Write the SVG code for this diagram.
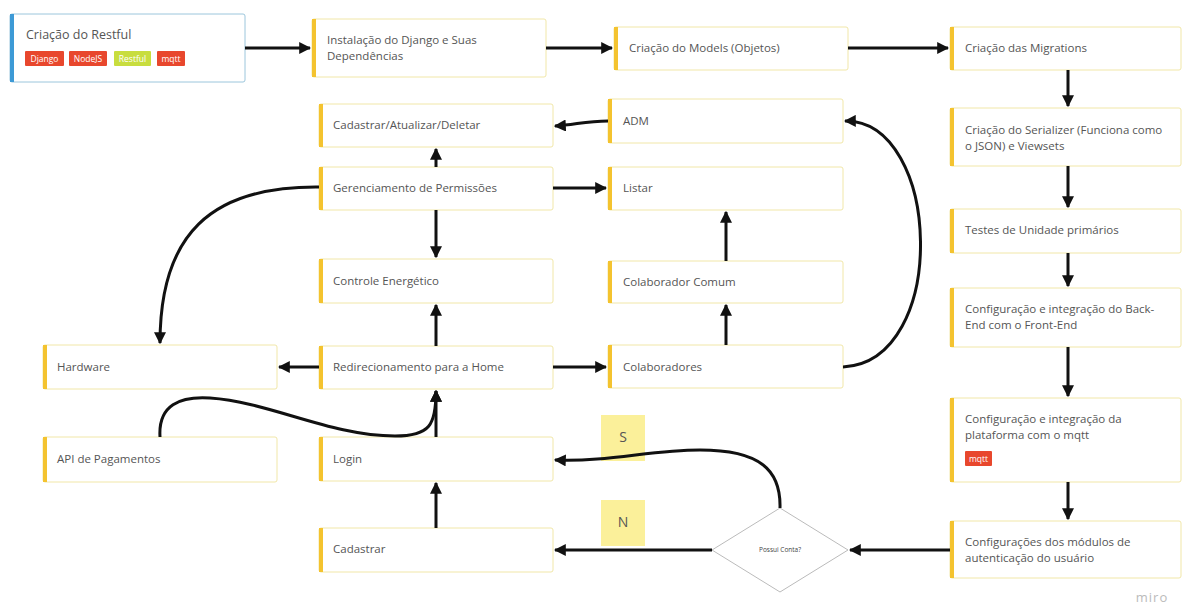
<svg xmlns="http://www.w3.org/2000/svg" width="1184" height="606" viewBox="0 0 1184 606">
<defs>
<style>
.box{fill:#fff;stroke:#f1e7a8;stroke-width:1}
.bar{fill:#f4c32f}
.t{font-family:"Open Sans","Liberation Sans",sans-serif;font-size:11.5px;fill:#555}
.tag{font-family:"Open Sans","Liberation Sans",sans-serif;font-size:8.5px;fill:#fff;text-anchor:middle}
.c{fill:none;stroke:#111;stroke-width:3}
.sticky{fill:#fbf09a}
.st{font-family:"Open Sans","Liberation Sans",sans-serif;font-size:14px;fill:#555;text-anchor:middle}
</style>
<marker id="a" viewBox="0 0 10 10" refX="9" refY="5" markerWidth="4" markerHeight="4" markerUnits="strokeWidth" orient="auto">
<path d="M0,0 L10,5 L0,10 z" fill="#111"/>
</marker>
</defs>
<rect width="1184" height="606" fill="#fff"/>

<g id="n-restful">
<rect x="10" y="14" width="235" height="68" rx="2" fill="#fff" stroke="#9cc6dc" stroke-width="1"/>
<rect x="10" y="14" width="4" height="68" fill="#3d9ad6"/>
<text class="t" x="26" y="39" style="font-size:12.5px">Criação do Restful</text>
<rect x="25" y="51" width="39" height="15" rx="1" fill="#e8472d"/><text class="tag" x="44.5" y="61.5">Django</text>
<rect x="69" y="51" width="38" height="15" rx="1" fill="#e8472d"/><text class="tag" x="88" y="61.5">NodeJS</text>
<rect x="114" y="51" width="37" height="15" rx="1" fill="#c8dd3e"/><text class="tag" x="132.5" y="61.5">Restful</text>
<rect x="157" y="51" width="28" height="15" rx="1" fill="#e8472d"/><text class="tag" x="171" y="61.5">mqtt</text>
</g>

<g id="n-instalacao">
<rect class="box" x="312" y="19" width="234" height="58" rx="2"/><rect class="bar" x="312" y="19" width="4" height="58"/>
<text class="t" x="327" y="44">Instalação do Django e Suas</text>
<text class="t" x="327" y="60">Dependências</text>
</g>
<g id="n-models">
<rect class="box" x="614" y="27" width="234" height="43" rx="2"/><rect class="bar" x="614" y="27" width="4" height="43"/>
<text class="t" x="629" y="52">Criação do Models (Objetos)</text>
</g>
<g id="n-migrations">
<rect class="box" x="950" y="27" width="231" height="43" rx="2"/><rect class="bar" x="950" y="27" width="4" height="43"/>
<text class="t" x="965" y="52">Criação das Migrations</text>
</g>
<g id="n-serializer">
<rect class="box" x="950" y="108" width="231" height="58" rx="2"/><rect class="bar" x="950" y="108" width="4" height="58"/>
<text class="t" x="965" y="134">Criação do Serializer (Funciona como</text>
<text class="t" x="965" y="150">o JSON) e Viewsets</text>
</g>
<g id="n-testes">
<rect class="box" x="950" y="209" width="231" height="44" rx="2"/><rect class="bar" x="950" y="209" width="4" height="44"/>
<text class="t" x="965" y="234">Testes de Unidade primários</text>
</g>
<g id="n-backend">
<rect class="box" x="950" y="288" width="231" height="59" rx="2"/><rect class="bar" x="950" y="288" width="4" height="59"/>
<text class="t" x="965" y="313">Configuração e integração do Back-</text>
<text class="t" x="965" y="329">End com o Front-End</text>
</g>
<g id="n-mqtt">
<rect class="box" x="950" y="398" width="231" height="84" rx="2"/><rect class="bar" x="950" y="398" width="4" height="84"/>
<text class="t" x="965" y="423">Configuração e integração da</text>
<text class="t" x="965" y="439">plataforma com o mqtt</text>
<rect x="965" y="451" width="27" height="15" rx="1" fill="#e8472d"/><text class="tag" x="978.5" y="461.5">mqtt</text>
</g>
<g id="n-autenticacao">
<rect class="box" x="950" y="521" width="231" height="57" rx="2"/><rect class="bar" x="950" y="521" width="4" height="57"/>
<text class="t" x="965" y="546">Configurações dos módulos de</text>
<text class="t" x="965" y="562">autenticação do usuário</text>
</g>

<g id="n-cad-atu-del">
<rect class="box" x="319" y="104" width="234" height="43" rx="2"/><rect class="bar" x="319" y="104" width="4" height="43"/>
<text class="t" x="333" y="129">Cadastrar/Atualizar/Deletar</text>
</g>
<g id="n-gerenciamento">
<rect class="box" x="319" y="167" width="234" height="43" rx="2"/><rect class="bar" x="319" y="167" width="4" height="43"/>
<text class="t" x="333" y="192">Gerenciamento de Permissões</text>
</g>
<g id="n-controle">
<rect class="box" x="319" y="259" width="234" height="44" rx="2"/><rect class="bar" x="319" y="259" width="4" height="44"/>
<text class="t" x="333" y="285">Controle Energético</text>
</g>
<g id="n-redirecionamento">
<rect class="box" x="319" y="346" width="234" height="43" rx="2"/><rect class="bar" x="319" y="346" width="4" height="43"/>
<text class="t" x="333" y="371">Redirecionamento para a Home</text>
</g>
<g id="n-login">
<rect class="box" x="319" y="437" width="234" height="44" rx="2"/><rect class="bar" x="319" y="437" width="4" height="44"/>
<text class="t" x="333" y="463">Login</text>
</g>
<g id="n-cadastrar">
<rect class="box" x="319" y="528" width="234" height="44" rx="2"/><rect class="bar" x="319" y="528" width="4" height="44"/>
<text class="t" x="333" y="553">Cadastrar</text>
</g>

<g id="n-adm">
<rect class="box" x="608" y="99" width="235" height="44" rx="2"/><rect class="bar" x="608" y="99" width="4" height="44"/>
<text class="t" x="623" y="125">ADM</text>
</g>
<g id="n-listar">
<rect class="box" x="608" y="167" width="235" height="43" rx="2"/><rect class="bar" x="608" y="167" width="4" height="43"/>
<text class="t" x="623" y="192">Listar</text>
</g>
<g id="n-colab-comum">
<rect class="box" x="608" y="261" width="235" height="42" rx="2"/><rect class="bar" x="608" y="261" width="4" height="42"/>
<text class="t" x="623" y="286">Colaborador Comum</text>
</g>
<g id="n-colaboradores">
<rect class="box" x="608" y="345" width="235" height="43" rx="2"/><rect class="bar" x="608" y="345" width="4" height="43"/>
<text class="t" x="623" y="371">Colaboradores</text>
</g>

<g id="n-hardware">
<rect class="box" x="43" y="345" width="234" height="44" rx="2"/><rect class="bar" x="43" y="345" width="4" height="44"/>
<text class="t" x="57" y="371">Hardware</text>
</g>
<g id="n-api">
<rect class="box" x="43" y="437" width="234" height="45" rx="2"/><rect class="bar" x="43" y="437" width="4" height="45"/>
<text class="t" x="57" y="463">API de Pagamentos</text>
</g>

<g id="n-possui-conta">
<polygon points="780,508 848,550 780,592 712,550" fill="#fff" stroke="#bbb" stroke-width="1"/>
<text x="780" y="552" text-anchor="middle" style="font-family:'Open Sans','Liberation Sans',sans-serif;font-size:6.5px;fill:#444">Possui Conta?</text>
</g>

<g id="sticky-s">
<rect class="sticky" x="601" y="415" width="44" height="46"/>
<text class="st" x="623" y="442">S</text>
</g>
<g id="sticky-n">
<rect class="sticky" x="601" y="500" width="44" height="46"/>
<text class="st" x="623" y="527">N</text>
</g>

<g id="connectors">
<path class="c" marker-end="url(#a)" d="M245,48 L310,48"/>
<path class="c" marker-end="url(#a)" d="M546,48 L612,48"/>
<path class="c" marker-end="url(#a)" d="M848,48 L948,48"/>
<path class="c" marker-end="url(#a)" d="M1068,70 L1068,106"/>
<path class="c" marker-end="url(#a)" d="M1068,166 L1068,207"/>
<path class="c" marker-end="url(#a)" d="M1068,253 L1068,286"/>
<path class="c" marker-end="url(#a)" d="M1068,347 L1068,396"/>
<path class="c" marker-end="url(#a)" d="M1068,482 L1068,519"/>
<path class="c" marker-end="url(#a)" d="M950,550 L850,550"/>
<path class="c" marker-end="url(#a)" d="M712,550 L555,550"/>
<path class="c" marker-end="url(#a)" d="M780,508 C781,470 760,450 700,450 C650,450 610,462 555,460"/>
<path class="c" marker-end="url(#a)" d="M436,528 L436,483"/>
<path class="c" marker-end="url(#a)" d="M436,437 L436,391"/>
<path class="c" marker-end="url(#a)" d="M160,437 C158,405 180,396 210,398 C270,402 330,436 395,436 C430,436 436,425 436,391"/>
<path class="c" marker-end="url(#a)" d="M436,346 L436,305"/>
<path class="c" marker-end="url(#a)" d="M436,210 L436,257"/>
<path class="c" marker-end="url(#a)" d="M436,167 L436,149"/>
<path class="c" marker-end="url(#a)" d="M553,188 L606,188"/>
<path class="c" marker-end="url(#a)" d="M608,121 C585,121 575,125 555,126"/>
<path class="c" marker-end="url(#a)" d="M843,367 C950,362 942,120 845,121"/>
<path class="c" marker-end="url(#a)" d="M726,345 L726,305"/>
<path class="c" marker-end="url(#a)" d="M726,261 L726,212"/>
<path class="c" marker-end="url(#a)" d="M553,367 L606,367"/>
<path class="c" marker-end="url(#a)" d="M319,367 L279,367"/>
<path class="c" marker-end="url(#a)" d="M319,187 C210,186 160,235 160,343"/>
</g>

<text x="1152" y="602" text-anchor="middle" style="font-family:'Open Sans','Liberation Sans',sans-serif;font-size:13px;fill:#bbb;letter-spacing:1px">miro</text>
</svg>
